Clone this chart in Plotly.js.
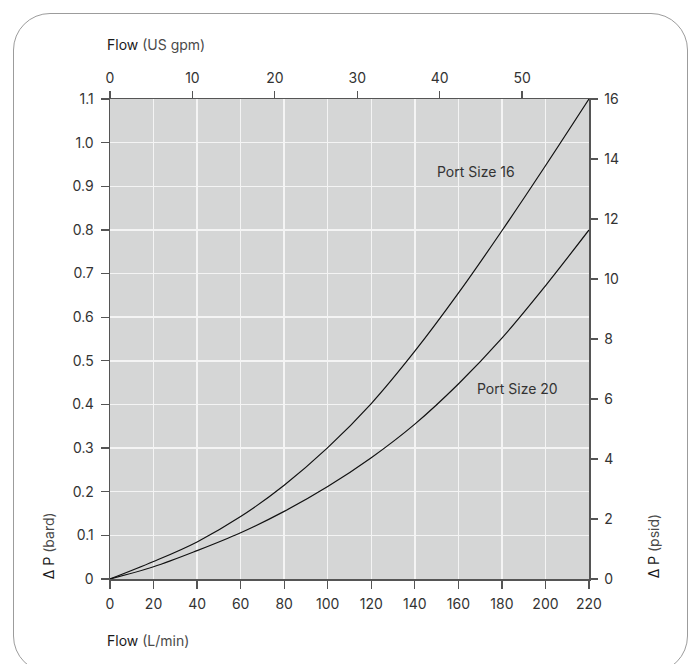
<!DOCTYPE html>
<html>
<head>
<meta charset="utf-8">
<script src="https://cdn.plot.ly/plotly-3.0.1.min.js"></script>
<style>
  html, body { margin: 0; padding: 0; background: #ffffff; }
  #wrap { position: relative; width: 700px; height: 664px; overflow: hidden; }
  #card { position: absolute; left: 13px; top: 13px; width: 675px; height: 660px;
          border: 1.5px solid #9c9c9c; border-radius: 37px; box-sizing: border-box; }
  #chart { position: absolute; left: 0; top: 0; width: 700px; height: 664px; }
</style>
</head>
<body>
<div id="wrap">
  <div id="card"></div>
  <div id="chart"></div>
</div>
<script>
// Flow in L/min
const flowLpm = [0, 20, 40, 60, 80, 100, 120, 140, 160, 180, 200, 220];
// Pressure drop in bar
const port16 = [0, 0.040, 0.085, 0.143, 0.215, 0.301, 0.402, 0.522, 0.655, 0.798, 0.947, 1.100];
const port20 = [0, 0.028, 0.065, 0.106, 0.155, 0.212, 0.278, 0.355, 0.447, 0.552, 0.672, 0.800];

const seriesNames = ["Port Size 16", "Port Size 20"];
const labelPos16 = [168, 0.933];
const labelPos20 = [187, 0.436];

const xTickVals = [0, 20, 40, 60, 80, 100, 120, 140, 160, 180, 200, 220];
const yTickVals = [0, 0.1, 0.2, 0.3, 0.4, 0.5, 0.6, 0.7, 0.8, 0.9, 1.0, 1.1];
const yTickText = ["0", "0.1", "0.2", "0.3", "0.4", "0.5", "0.6", "0.7", "0.8", "0.9", "1.0", "1.1"];
const gpmTickVals = [0, 10, 20, 30, 40, 50];
const psiTickVals = [0, 2, 4, 6, 8, 10, 12, 14, 16];

const LPM_PER_GPM = 3.78541;
const xMax = 220, yMax = 1.1, psiMax = 16;

const FONT = "Inter, 'Open Sans', sans-serif";
const TXT = "#333333";
const AX = "#555555";

const traces = [
  { x: flowLpm, y: port16, type: "scatter", mode: "lines", name: seriesNames[0],
    line: { color: "#111111", width: 1.2, shape: "spline", smoothing: 1.0 },
    cliponaxis: false, hoverinfo: "skip", showlegend: false },
  { x: flowLpm, y: port20, type: "scatter", mode: "lines", name: seriesNames[1],
    line: { color: "#111111", width: 1.2, shape: "spline", smoothing: 1.0 },
    cliponaxis: false, hoverinfo: "skip", showlegend: false },
  { x: [], y: [], xaxis: "x2", yaxis: "y2", type: "scatter", mode: "lines",
    hoverinfo: "skip", showlegend: false }
];

const axisCommon = {
  showline: true, linecolor: AX, linewidth: 1.5,
  ticks: "outside", ticklen: 8, tickwidth: 1.2, tickcolor: AX,
  tickfont: { family: FONT, size: 14, color: TXT },
  zeroline: false, fixedrange: true
};

const layout = {
  width: 700, height: 664,
  margin: { l: 109.5, r: 110.5, t: 99, b: 85, pad: 0 },
  paper_bgcolor: "rgba(0,0,0,0)",
  plot_bgcolor: "#d5d6d6",
  showlegend: false,
  xaxis: Object.assign({}, axisCommon, {
    range: [0, xMax], tickmode: "array", tickvals: xTickVals,
    showgrid: true, gridcolor: "#f4f4f4", gridwidth: 1.5, ticklabelstandoff: 4
  }),
  yaxis: Object.assign({}, axisCommon, {
    range: [0, yMax], tickmode: "array", tickvals: yTickVals, ticktext: yTickText,
    showgrid: true, gridcolor: "#f4f4f4", gridwidth: 1.5, ticklabelstandoff: 4
  }),
  xaxis2: Object.assign({}, axisCommon, {
    overlaying: "x", side: "top", anchor: "y2",
    range: [0, xMax / LPM_PER_GPM], tickmode: "array", tickvals: gpmTickVals,
    showgrid: false, ticklen: 7, ticklabelstandoff: 2
  }),
  yaxis2: Object.assign({}, axisCommon, {
    overlaying: "y", side: "right", anchor: "x2",
    range: [0, psiMax], tickmode: "array", tickvals: psiTickVals,
    showgrid: false, ticklen: 7, ticklabelstandoff: 4
  }),
  annotations: [
    { text: seriesNames[0], x: labelPos16[0], y: labelPos16[1], xref: "x", yref: "y",
      showarrow: false, font: { family: FONT, size: 14, color: TXT } },
    { text: seriesNames[1], x: labelPos20[0], y: labelPos20[1], xref: "x", yref: "y",
      showarrow: false, font: { family: FONT, size: 14, color: TXT } },
    { text: '<span style="color:#1a1a1a">Flow</span> (US gpm)',
      xref: "paper", yref: "paper", x: -0.01, y: 1 + (99 - 44) / 480,
      xanchor: "left", yanchor: "middle", showarrow: false,
      font: { family: FONT, size: 14, color: "#4a4a4a" } },
    { text: '<span style="color:#1a1a1a">Flow</span> (L/min)',
      xref: "paper", yref: "paper", x: -0.01, y: -(640 - 579) / 480,
      xanchor: "left", yanchor: "middle", showarrow: false,
      font: { family: FONT, size: 14, color: "#4a4a4a" } },
    { text: '<span style="color:#1a1a1a">Δ P</span> (bard)',
      xref: "paper", yref: "paper", x: -(109.5 - 47.5) / 480, y: (579 - 546) / 480,
      xanchor: "center", yanchor: "middle", textangle: -90, showarrow: false,
      font: { family: FONT, size: 14, color: "#4a4a4a" } },
    { text: '<span style="color:#1a1a1a">Δ P</span> (psid)',
      xref: "paper", yref: "paper", x: 1 + (654 - 589.5) / 480, y: (579 - 546) / 480,
      xanchor: "center", yanchor: "middle", textangle: -90, showarrow: false,
      font: { family: FONT, size: 14, color: "#4a4a4a" } }
  ]
};

Plotly.newPlot("chart", traces, layout, { staticPlot: true, displayModeBar: false });
</script>
</body>
</html>
